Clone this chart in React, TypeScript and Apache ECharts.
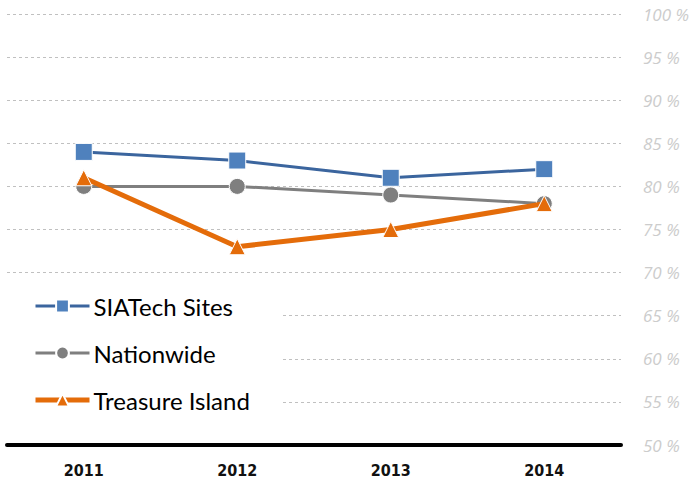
import React, { useEffect, useRef } from "react";
import * as echarts from "echarts";

const years = ["2011", "2012", "2013", "2014"];
const siatech = [84, 83, 81, 82];
const nationwide = [80, 80, 79, 78];
const treasure = [81, 73, 75, 78];

export default function App() {
  const ref = useRef<HTMLDivElement>(null);
  useEffect(() => {
    if (!ref.current) return;
    const chart = echarts.init(ref.current, null, { renderer: "svg" });
    chart.setOption({
      animation: false,
      backgroundColor: "#ffffff",
      grid: { left: 7, right: 69, top: 14, bottom: 39, outerBoundsMode: "none", containLabel: false },
      legend: {
        orient: "vertical",
        left: 0,
        top: 286,
        backgroundColor: "#ffffff",
        padding: [8, 32, 10, 33],
        itemWidth: 54,
        itemHeight: 16,
        itemGap: 23,
        textStyle: { fontSize: 24, color: "#000", fontFamily: "Lato, 'Noto Sans', sans-serif", padding: [0, 0, 0, -1] },
        data: [
          { name: "SIATech Sites", lineStyle: { width: 3 } },
          { name: "Nationwide", lineStyle: { width: 3 } },
          { name: "Treasure Island", lineStyle: { width: 5 } },
        ],
      },
      xAxis: {
        type: "category",
        data: years,
        boundaryGap: true,
        axisLine: { show: true, lineStyle: { color: "#000", width: 4 } },
        axisTick: { show: false },
        axisLabel: { fontSize: 16, fontWeight: "bold", color: "#111", margin: 17, fontFamily: "'DejaVu Sans Condensed', 'Liberation Sans', sans-serif" },
      },
      yAxis: {
        type: "value",
        position: "right",
        min: 50,
        max: 100,
        interval: 5,
        axisLine: { show: false },
        axisTick: { show: false },
        axisLabel: {
          formatter: "{value} %",
          color: "#cccccc",
          fontStyle: "italic",
          fontSize: 17,
          margin: 22,
          fontFamily: "'Open Sans', sans-serif",
        },
        splitLine: { lineStyle: { color: "#c0c0c0", type: [3, 3], width: 1 } },
      },
      series: [
        {
          name: "Nationwide",
          type: "line",
          data: nationwide,
          symbol: "circle",
          symbolSize: 16,
          itemStyle: { color: "#7f7f7f", borderColor: "#fff", borderWidth: 1 },
          lineStyle: { color: "#7f7f7f", width: 3 },
          z: 2,
        },
        {
          name: "SIATech Sites",
          type: "line",
          data: siatech,
          symbol: "rect",
          symbolSize: 17,
          itemStyle: { color: "#4f81bd", borderColor: "#fff", borderWidth: 1 },
          lineStyle: { color: "#3b659e", width: 3 },
          z: 3,
        },
        {
          name: "Treasure Island",
          type: "line",
          data: treasure,
          symbol: "triangle",
          symbolSize: 16,
          itemStyle: { color: "#e46c0a", borderColor: "#fff", borderWidth: 1 },
          lineStyle: { color: "#e46c0a", width: 5 },
          z: 4,
        },
      ],
    });
    return () => chart.dispose();
  }, []);
  return <div ref={ref} style={{ width: 690, height: 484, position: "fixed", left: 0, top: 0 }} />;
}
